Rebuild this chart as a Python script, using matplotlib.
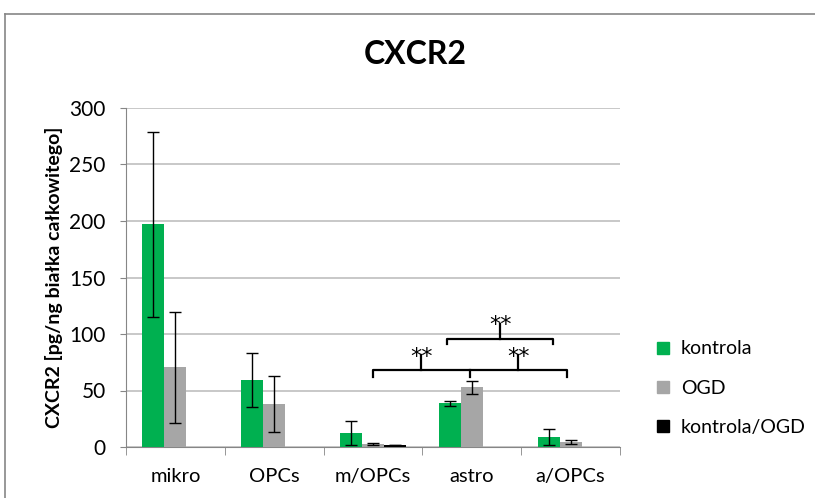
import numpy as np
import matplotlib
matplotlib.use('Agg')
import matplotlib.pyplot as plt
from matplotlib.lines import Line2D

plt.rcParams['font.family'] = ['Lato', 'DejaVu Sans']

categories = ['mikro', 'OPCs', 'm/OPCs', 'astro', 'a/OPCs']
kontrola = [197, 59, 12.7, 38.6, 8.8]
kontrola_err = [82, 24, 10.5, 2, 7]
ogd = [70.5, 38, 2.7, 53, 4.7]
ogd_err = [49, 25, 0.5, 5.7, 1.8]
# kontrola/OGD only measured for m/OPCs
ratio = [0, 0, 1.8, 0, 0]
ratio_err = [0, 0, 0.3, 0, 0]

green = '#00b050'
gray = '#a6a6a6'
black = '#000000'

fig = plt.figure(figsize=(8.15, 4.98), dpi=100)
ax = fig.add_axes([126/815, 1-447/498, (620-126)/815, (447-108)/498])

x = np.arange(len(categories))
bw = 0.222
ek = dict(ecolor='black', elinewidth=1, capsize=4, capthick=1)
ax.bar(x-bw, kontrola, bw, color=green, label='kontrola', zorder=3)
ax.errorbar(x-bw, kontrola, yerr=kontrola_err, fmt='none', zorder=4, **ek)
ax.bar(x, ogd, bw, color=gray, label='OGD', zorder=3)
ax.errorbar(x, ogd, yerr=ogd_err, fmt='none', zorder=4, **ek)
m = np.array(ratio) > 0
ax.bar(x+bw, ratio, bw, color=black, label='kontrola/OGD', zorder=3)
ax.errorbar((x+bw)[m], np.array(ratio)[m], yerr=np.array(ratio_err)[m], fmt='none', zorder=4, **ek)

ax.set_xlim(-0.5, 4.5)
ax.set_ylim(0, 300)
ax.set_yticks(np.arange(0, 301, 50))
ax.set_xticks(x)
ax.set_xticklabels(categories, fontsize=14.5)
ax.set_xticks(np.arange(-0.5, 4.6, 1), minor=True)
ax.tick_params(axis='x', which='major', length=0, pad=15)
ax.tick_params(axis='x', which='minor', length=6, color='#868686', direction='out')
ax.tick_params(axis='y', labelsize=15, length=4.5, color='#868686', pad=10)
ax.grid(axis='y', color='#bfbfbf', lw=1.2, zorder=0)
for s in ['top', 'right']:
    ax.spines[s].set_visible(False)
for s in ['left', 'bottom']:
    ax.spines[s].set_color('#868686')
ax.set_ylabel('CXCR2 [pg/ng białka całkowitego]', fontsize=14, fontweight='bold')
ax.yaxis.set_label_coords(-0.127, 0.5)

# significance brackets
lw = 1.6
star = dict(ha='center', va='baseline', fontsize=16, family=['DejaVu Sans'])
ax.plot([2.0, 2.0, 3.96, 3.96], [62, 68, 68, 62], color='black', lw=lw, zorder=5)
ax.plot([2.98, 2.98], [62, 68], color='black', lw=lw, zorder=5)
ax.plot([2.49, 2.49], [68, 81], color='black', lw=lw, zorder=5)
ax.plot([3.47, 3.47], [68, 81], color='black', lw=lw, zorder=5)
ax.text(2.49, 74, '**', **star)
ax.text(3.47, 74, '**', **star)
ax.plot([2.75, 2.75, 3.82, 3.82], [91, 96, 96, 91], color='black', lw=lw, zorder=5)
ax.plot([3.29, 3.29], [96, 108.5], color='black', lw=lw, zorder=5)
ax.text(3.29, 102.5, '**', **star)

fig.text(415/815, 1-55/498, 'CXCR2', ha='center', va='center', fontsize=23, fontweight='bold')

handles = [Line2D([], [], marker='s', ls='none', color=c, markersize=9) for c in (green, gray, black)]
fig.legend(handles, ['kontrola', 'OGD', 'kontrola/OGD'], loc='upper left',
           bbox_to_anchor=(638/815, 1-323/498), frameon=False, fontsize=14,
           handlelength=0.8, handletextpad=0.5, labelspacing=1.15)

# chart border
fig.add_artist(Line2D([5/815, 1], [1-14/498, 1-14/498], color='#868686', lw=1.2))
fig.add_artist(Line2D([5/815, 5/815], [0, 1-14/498], color='#868686', lw=1.2))

fig.savefig('out.png', dpi=100)
